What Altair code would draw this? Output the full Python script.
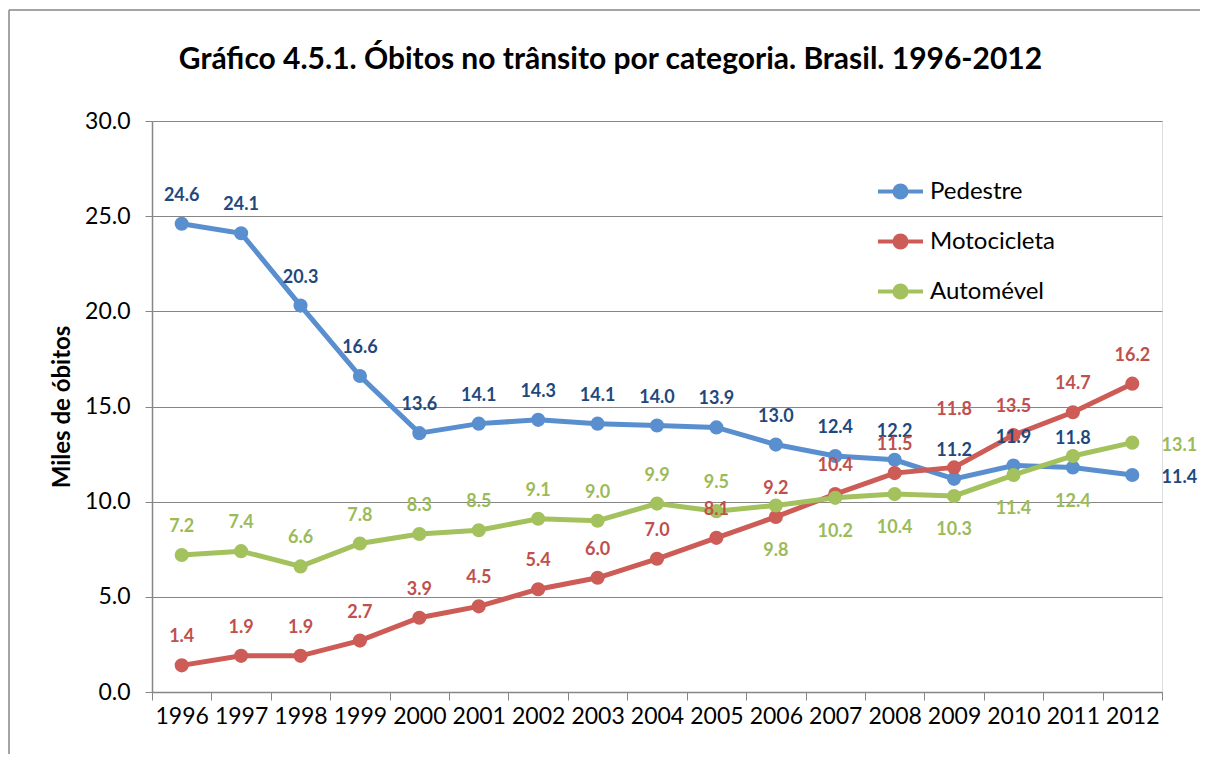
import altair as alt
import pandas as pd

years = [str(y) for y in range(1996, 2013)]
series_names = ["Pedestre", "Motocicleta", "Automével"]
pedestre = [24.6, 24.1, 20.3, 16.6, 13.6, 14.1, 14.3, 14.1, 14.0, 13.9, 13.0, 12.4, 12.2, 11.2, 11.9, 11.8, 11.4]
motocicleta = [1.4, 1.9, 1.9, 2.7, 3.9, 4.5, 5.4, 6.0, 7.0, 8.1, 9.2, 10.4, 11.5, 11.8, 13.5, 14.7, 16.2]
automovel = [7.2, 7.4, 6.6, 7.8, 8.3, 8.5, 9.1, 9.0, 9.9, 9.5, 9.8, 10.2, 10.4, 10.3, 11.4, 12.4, 13.1]
label_side = {
    "Pedestre": ["above"] * 16 + ["right"],
    "Motocicleta": ["above"] * 13 + ["high"] + ["above"] * 3,
    "Automével": ["above"] * 10 + ["low", "below", "below", "below", "below", "low"] + ["right"],
}
line_colors = ["#5A8FCF", "#CD5B56", "#A3C25E"]
label_colors = ["#1F497D", "#C0504D", "#9BBB59"]

rows = []
for name, vals in zip(series_names, [pedestre, motocicleta, automovel]):
    for y, v, s in zip(years, vals, label_side[name]):
        rows.append({"year": y, "series": name, "value": v, "side": s, "label": f"{v:.1f}"})
df = pd.DataFrame(rows)

W, H = 1010, 571
FONT = "Lato"
GRAY = "#868686"

x_enc = alt.X("year:N", sort=years, bandPosition=0.5,
              scale=alt.Scale(type="band", paddingInner=0, paddingOuter=0),
              axis=alt.Axis(title=None, labelAngle=0, labelFontSize=23, labelColor="black",
                            labelFont=FONT, tickBand="extent", tickColor=GRAY, tickSize=8,
                            domainColor=GRAY, domainWidth=1.5, grid=False, labelPadding=5))
y_enc = alt.Y("value:Q", scale=alt.Scale(domain=[0, 30], nice=False),
              axis=alt.Axis(values=[0, 5, 10, 15, 20, 25, 30], format=".1f", grid=True,
                            gridColor=GRAY, gridWidth=1, tickColor=GRAY, tickSize=7,
                            domainColor=GRAY, domainWidth=1.5,
                            labelFontSize=23, labelFont=FONT, labelColor="black", labelPadding=15,
                            title="Miles de óbitos", titleFontSize=24, titleFont=FONT,
                            titleFontWeight="bold", titleColor="black", titlePadding=10))

color_scale = alt.Scale(domain=series_names, range=line_colors)
legend = alt.Legend(title=None, orient="none", legendX=724, legendY=46,
                    symbolType="M-1,0L1,0M-0.267,0A0.267,0.267 0 1,0 0.267,0A0.267,0.267 0 1,0 -0.267,0M-0.089,0A0.089,0.089 0 1,0 0.089,0A0.089,0.089 0 1,0 -0.089,0",
                    symbolSize=2025, symbolStrokeWidth=4, labelFontSize=24, labelFont=FONT,
                    labelColor="black", labelOffset=5, rowPadding=11, symbolOpacity=1)

base = alt.Chart(df)
lines = base.mark_line(strokeWidth=5).encode(
    x=x_enc, y=y_enc,
    color=alt.Color("series:N", scale=color_scale, legend=legend),
    detail="series:N",
)
points = base.mark_circle(size=200, opacity=1).encode(
    x=x_enc, y=y_enc,
    color=alt.Color("series:N", scale=color_scale, legend=None),
)

fill_scale = alt.Scale(domain=series_names, range=label_colors)
offsets = {"above": (0, -28), "high": (0, -57), "below": (0, 34), "low": (0, 46), "right": (47, 3)}
texts = []
for side, (dx, dy) in offsets.items():
    texts.append(
        base.transform_filter(alt.datum.side == side)
        .mark_text(fontSize=18, fontWeight="bold", font=FONT, dx=dx, dy=dy)
        .encode(x=x_enc, y=y_enc, text="label:N",
                fill=alt.Fill("series:N", scale=fill_scale, legend=None))
    )

one = pd.DataFrame({"a": [0]})
frame_top = alt.Chart(one).mark_rule(stroke=GRAY, strokeWidth=1.5).encode(
    x=alt.value(-143), x2=alt.value(1120), y=alt.value(-111))
frame_left = alt.Chart(one).mark_rule(stroke=GRAY, strokeWidth=1.5).encode(
    x=alt.value(-143), y=alt.value(-111), y2=alt.value(700))

chart = alt.layer(frame_top, frame_left, lines, points, *texts).properties(
    width=W, height=H,
    title=alt.TitleParams("Gráfico 4.5.1. Óbitos no trânsito por categoria. Brasil. 1996-2012",
                          fontSize=30, font=FONT, fontWeight="bold", color="black",
                          anchor="middle", frame="bounds", offset=-66, dx=-30),
    padding={"left": 144, "top": 113, "right": 38, "bottom": 62},
    autosize=alt.AutoSizeParams(type="none"),
).configure_view(stroke=None).configure(background="white")

chart.save("out.html", embed_options={"renderer": "svg", "actions": False})
